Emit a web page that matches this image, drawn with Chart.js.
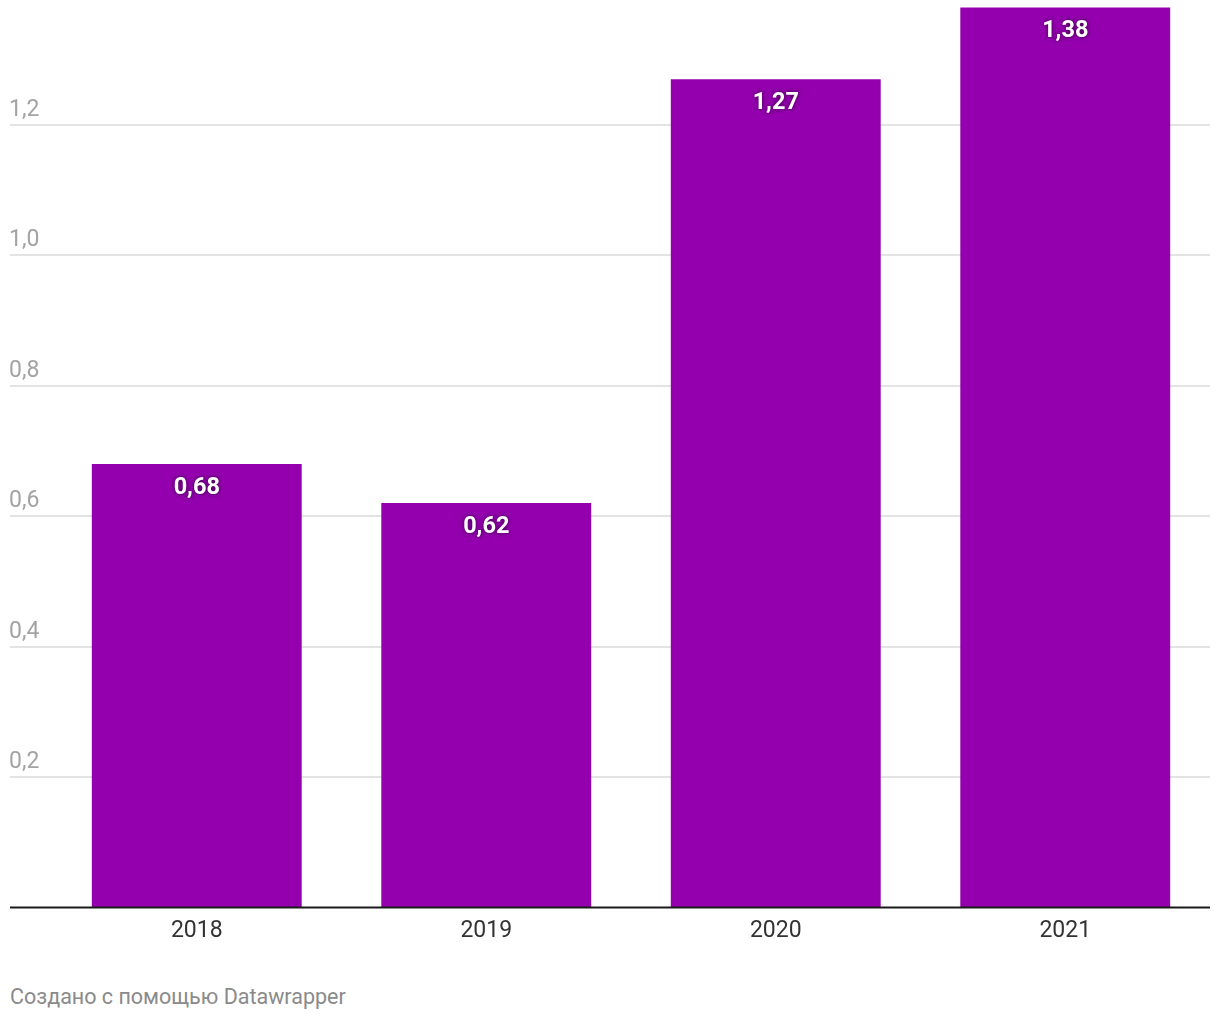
<!DOCTYPE html>
<html>
<head>
<meta charset="utf-8">
<script src="https://cdn.jsdelivr.net/npm/chart.js@4"></script>
<style>
  body { margin: 0; background: #fff; font-family: Roboto, sans-serif; }
  #wrap { position: relative; width: 1220px; height: 955px; }
  #credit { position: absolute; left: 10px; top: 984px; font-size: 21.5px; color: #8a8a8a; font-family: Roboto, sans-serif; }
</style>
</head>
<body>
<div id="wrap"><canvas id="chart"></canvas></div>
<div id="credit">Создано с помощью Datawrapper</div>
<script>
'use strict';

let years = ['2018', '2019', '2020', '2021'];
let values = [0.68, 0.62, 1.27, 1.38];
let tickValues = [0.2, 0.4, 0.6, 0.8, 1.0, 1.2];

let canvasElem = document.getElementById('chart');

function fmt(v, digits) {
  return v.toFixed(digits).replace('.', ',');
}

// grid lines + y labels drawn from x=10, like datawrapper
let gridPlugin = {
  id: 'dwGrid',
  beforeDatasetsDraw(chart) {
    let ctx = chart.ctx;
    let y = chart.scales.y;
    let right = chart.chartArea.right;
    ctx.save();
    ctx.strokeStyle = '#e3e3e3';
    ctx.lineWidth = 2;
    ctx.font = '23px Roboto';
    ctx.fillStyle = '#a3a3a3';
    ctx.textBaseline = 'alphabetic';
    ctx.textAlign = 'left';
    for (let i = 0; i < tickValues.length; i++) {
      let py = Math.round(y.getPixelForValue(tickValues[i]));
      ctx.beginPath();
      ctx.moveTo(10, py);
      ctx.lineTo(right, py);
      ctx.stroke();
      ctx.fillText(fmt(tickValues[i], 1), 9, py - 9);
    }
    ctx.restore();
  },
  afterDatasetsDraw(chart) {
    let ctx = chart.ctx;
    let y = chart.scales.y;
    let py = y.getPixelForValue(0);
    ctx.save();
    ctx.strokeStyle = '#1a1a1a';
    ctx.lineWidth = 2;
    ctx.beginPath();
    ctx.moveTo(10, py);
    ctx.lineTo(chart.chartArea.right, py);
    ctx.stroke();

    // value labels inside bars
    let meta = chart.getDatasetMeta(0);
    ctx.font = 'bold 23.5px Roboto';
    ctx.textAlign = 'center';
    ctx.textBaseline = 'middle';
    ctx.fillStyle = '#fff';
    ctx.shadowColor = 'rgba(40,0,50,0.9)';
    ctx.shadowBlur = 4;
    meta.data.forEach(function(bar, i) {
      ctx.fillText(fmt(values[i], 2), bar.x, bar.y + 24);
    });
    ctx.restore();
  }
};

function renderChart() {
  let chartObj = {
    type: 'bar',
    data: {
      labels: years,
      datasets: [{
        data: values,
        backgroundColor: '#9400ae',
        borderWidth: 0,
        barPercentage: 0.725,
        categoryPercentage: 1
      }]
    },
    options: {
      responsive: false,
      animation: false,
      layout: { padding: { left: 52, right: 10, top: 1, bottom: 0 } },
      plugins: {
        legend: { display: false },
        tooltip: { enabled: false }
      },
      scales: {
        x: {
          grid: { display: false, drawTicks: false },
          border: { display: false },
          ticks: {
            color: '#333',
            font: { family: 'Roboto', size: 23 },
            padding: 10
          }
        },
        y: {
          min: 0,
          max: 1.39,
          display: false
        }
      }
    },
    plugins: [gridPlugin]
  };
  new Chart(canvasElem, chartObj);
}

canvasElem.width = 1220;
canvasElem.height = 955;
renderChart();
</script>
</body>
</html>
